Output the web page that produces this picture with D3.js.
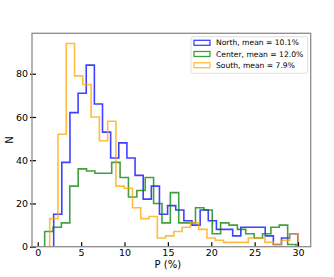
<!DOCTYPE html>
<html>
<head>
<meta charset="utf-8">
<script src="https://cdnjs.cloudflare.com/ajax/libs/d3/7.8.5/d3.min.js"></script>
<style>
  body { margin: 0; background: #fff; }
  svg text { font-family: "DejaVu Sans", sans-serif; fill: #000; }
</style>
</head>
<body>
<div id="chart"></div>
<script>
// bin counts, 30 bins per region, each region binned over its own range
var northCounts  = [15,39,62,71,84,66,53,41,48,41,33,22,28,15,19,17,12,10,17,12,8,8,5,9,9,9,5,1,4,6];
var centerCounts = [7,9,11,28,36,35,34,34,39,32,23,26,32,20,11,25,11,11,18,17,6,11,10,8,6,4,6,9,10,1];
var southCounts  = [13,52,94,79,75,60,49,58,28,27,18,13,14,4,5,7,9,11,8,4,3,2,2,2,4,4,2,1,3,6];

var northRange  = [1.84, 29.97];
var centerRange = [0.80, 29.77];
var southRange  = [1.38, 30.0];

var seriesNames = ["North, mean = 10.1%", "Center, mean = 12.0%", "South, mean = 7.9%"];
var seriesColors = ["#0000ff", "#008000", "#ffa500"];

var xTicks = [0, 5, 10, 15, 20, 25, 30];
var yTicks = [0, 20, 40, 60, 80];

var width = 334, height = 277;
var margin = {top: 33.3, right: 23.3, bottom: 30.3, left: 32};
var w = width - margin.left - margin.right,
    h = height - margin.top - margin.bottom;

var x = d3.scaleLinear().domain([-0.66, 31.46]).range([0, w]);
var y = d3.scaleLinear().domain([0, 98.7]).range([h, 0]);

var svg = d3.select("#chart").append("svg")
    .attr("width", width)
    .attr("height", height);

var g = svg.append("g").attr("transform", "translate(" + margin.left + "," + margin.top + ")");

var series = [
  {counts: northCounts, range: northRange},
  {counts: centerCounts, range: centerRange},
  {counts: southCounts, range: southRange}
];

function stepPoints(s) {
  var n = s.counts.length,
      lo = s.range[0], hi = s.range[1],
      bw = (hi - lo) / n,
      pts = [[lo, 0]];
  s.counts.forEach(function(c, i) {
    pts.push([lo + i * bw, c]);
    pts.push([lo + (i + 1) * bw, c]);
  });
  pts.push([hi, 0]);
  return pts;
}

var line = d3.line()
  .x(function(d) { return x(d[0]); })
  .y(function(d) { return y(d[1]); });

g.append("defs").append("clipPath").attr("id", "clip")
  .append("rect").attr("width", w).attr("height", h);

g.append("g").attr("clip-path", "url(#clip)")
  .selectAll("path")
  .data(series)
  .enter().append("path")
  .attr("d", function(d) { return line(stepPoints(d)); })
  .attr("fill", "none")
  .attr("stroke", function(d, i) { return seriesColors[i]; })
  .attr("stroke-opacity", 0.75)
  .attr("stroke-width", 1.6);

// axes
var xAxis = g.append("g")
  .attr("transform", "translate(0," + h + ")")
  .call(d3.axisBottom(x).tickValues(xTicks).tickSize(-4.5).tickPadding(2.5).tickFormat(d3.format("d")));
var yAxis = g.append("g")
  .call(d3.axisLeft(y).tickValues(yTicks).tickSize(-4).tickPadding(4).tickFormat(d3.format("d")));

[xAxis, yAxis].forEach(function(a) {
  a.select(".domain").remove();
  a.selectAll(".tick line").attr("stroke", "#000").attr("stroke-width", 1.2);
  a.selectAll(".tick text").style("font-size", "9.5px").style("font-family", "DejaVu Sans, sans-serif");
});
// y ticks poke slightly outside too
yAxis.selectAll(".tick line").attr("x1", -2);

// frame
g.append("rect")
  .attr("width", w).attr("height", h)
  .attr("fill", "none")
  .attr("stroke", "#8c8c8c")
  .attr("stroke-width", 1.3);

// axis labels
svg.append("text")
  .attr("x", margin.left + x(15))
  .attr("y", 268)
  .attr("text-anchor", "middle")
  .style("font-size", "10px")
  .text("P (%)");

svg.append("text")
  .attr("transform", "translate(13," + (margin.top + h / 2) + ") rotate(-90)")
  .attr("text-anchor", "middle")
  .style("font-size", "10px")
  .text("N");

// legend
var lg = svg.append("g").attr("transform", "translate(191,36.7)");
lg.append("rect")
  .attr("width", 116.7).attr("height", 36.6)
  .attr("rx", 2).attr("ry", 2)
  .attr("fill", "#fff").attr("fill-opacity", 0.8)
  .attr("stroke", "#d6d6d6").attr("stroke-width", 0.8);

var item = lg.selectAll(".item")
  .data(seriesNames)
  .enter().append("g")
  .attr("transform", function(d, i) { return "translate(3," + (6 + i * 11.2) + ")"; });

item.append("rect")
  .attr("y", -2.4)
  .attr("width", 16).attr("height", 5)
  .attr("fill", "none")
  .attr("stroke", function(d, i) { return seriesColors[i]; })
  .attr("stroke-opacity", 0.75)
  .attr("stroke-width", 1.3);

item.append("text")
  .attr("x", 22)
  .attr("dy", "0.35em")
  .style("font-size", "7.6px")
  .text(function(d) { return d; });
</script>
</body>
</html>
